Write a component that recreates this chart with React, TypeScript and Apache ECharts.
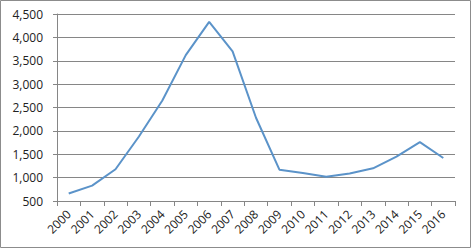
import React, { useEffect, useRef } from "react";
import * as echarts from "echarts";

const years = ["2000","2001","2002","2003","2004","2005","2006","2007","2008","2009","2010","2011","2012","2013","2014","2015","2016"];
const values = [660, 830, 1180, 1880, 2650, 3620, 4330, 3700, 2280, 1170, 1100, 1020, 1090, 1200, 1450, 1760, 1420];

export default function App() {
  const ref = useRef<HTMLDivElement>(null);
  useEffect(() => {
    document.body.style.margin = "0";
    const chart = echarts.init(ref.current!, undefined, { renderer: "svg" });
    chart.setOption({
      animation: false,
      backgroundColor: "#ffffff",
      graphic: [
        {
          type: "rect",
          shape: { x: 0.5, y: 0.5, width: 470, height: 247 },
          style: { fill: "none", stroke: "#8c8c8c", lineWidth: 1 },
          silent: true,
        },
      ],
      grid: { left: 57, right: 18, top: 14, bottom: 49 },
      xAxis: {
        type: "category",
        data: years,
        boundaryGap: true,
        axisLine: { lineStyle: { color: "#868686", width: 1 } },
        axisTick: { show: true, alignWithLabel: false, length: 5, lineStyle: { color: "#868686" } },
        axisLabel: {
          rotate: 45,
          margin: 11,
          fontSize: 12,
          color: "#222",
          fontFamily: "Open Sans, Liberation Sans, sans-serif",
          interval: 0,
        },
      },
      yAxis: {
        type: "value",
        min: 500,
        max: 4500,
        interval: 500,
        axisLine: { show: true, lineStyle: { color: "#868686", width: 1 } },
        axisTick: { show: true, length: 4, lineStyle: { color: "#868686" } },
        splitLine: { lineStyle: { color: "#868686", width: 1 } },
        axisLabel: {
          margin: 14,
          fontSize: 12,
          color: "#222",
          fontFamily: "Open Sans, Liberation Sans, sans-serif",
          formatter: (v: number) => v.toLocaleString("en-US"),
        },
      },
      series: [
        {
          type: "line",
          data: values,
          symbol: "none",
          lineStyle: { color: "#5B93C9", width: 2 },
        },
      ],
    });
    return () => chart.dispose();
  }, []);
  return <div ref={ref} style={{ width: 473, height: 250 }} />;
}
